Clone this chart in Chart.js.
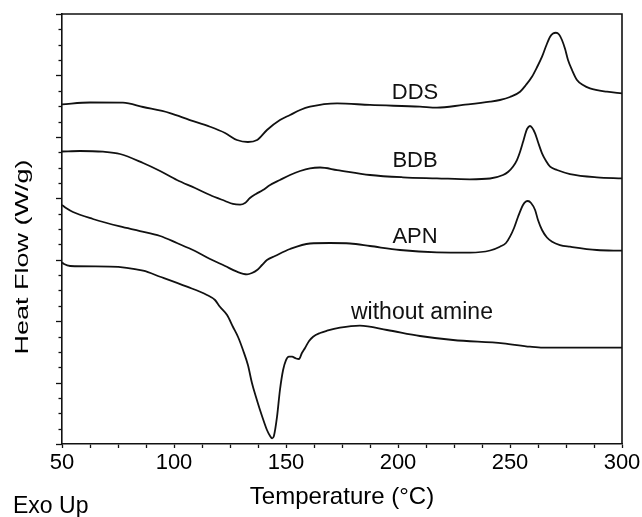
<!DOCTYPE html>
<html>
<head>
<meta charset="utf-8">
<script src="https://cdn.jsdelivr.net/npm/chart.js@4.4.1/dist/chart.umd.min.js"></script>
<style>
  html, body { margin: 0; padding: 0; background: #fff; }
  canvas { display: block; }
</style>
</head>
<body>
<canvas id="dsc" width="642" height="517"></canvas>
<script>
// DSC heating scans (Exo Up), curves stacked with vertical offsets.
// Temperatures in °C, heat flow in offset units (no numeric scale shown).

const ddsTemp = [50, 62.5, 77.2, 86.2, 98.2, 107.1, 116.1, 122.8, 128.1, 133.0, 137.1, 141.5, 147.3, 151.8, 156.3, 160.7, 172.8, 187.5, 209.8, 217.4, 229.0, 241.1, 245.5, 250.0, 254.5, 257.1, 259.8, 262.1, 264.3, 266.1, 267.9, 269.2, 270.5, 271.9, 273.2, 274.6, 275.9, 277.7, 279.9, 282.6, 285.7, 293.3, 300];
const ddsFlow = [5.530, 5.559, 5.556, 5.486, 5.388, 5.274, 5.165, 5.063, 4.949, 4.916, 4.949, 5.112, 5.274, 5.356, 5.437, 5.491, 5.546, 5.519, 5.491, 5.475, 5.519, 5.572, 5.600, 5.649, 5.735, 5.844, 5.979, 6.137, 6.305, 6.479, 6.630, 6.682, 6.695, 6.666, 6.577, 6.430, 6.251, 6.088, 5.925, 5.844, 5.790, 5.735, 5.709];

const bdbTemp = [50, 58.0, 68.3, 75.9, 86.2, 93.8, 101.3, 109.4, 116.1, 122.8, 126.3, 129.5, 131.7, 133.9, 136.6, 139.7, 142.9, 147.3, 151.8, 156.3, 160.7, 165.2, 172.8, 187.5, 202.2, 217.4, 232.1, 241.1, 246.9, 249.1, 251.3, 253.1, 254.5, 255.8, 256.7, 257.6, 258.9, 259.8, 261.2, 262.5, 264.3, 266.1, 267.9, 271.0, 276.8, 288.8, 300];
const bdbFlow = [4.762, 4.770, 4.758, 4.721, 4.574, 4.444, 4.298, 4.167, 4.053, 3.956, 3.907, 3.896, 3.923, 4.005, 4.070, 4.135, 4.216, 4.298, 4.379, 4.444, 4.488, 4.501, 4.460, 4.379, 4.342, 4.325, 4.309, 4.322, 4.379, 4.428, 4.514, 4.623, 4.758, 4.916, 5.030, 5.128, 5.177, 5.152, 5.058, 4.916, 4.732, 4.607, 4.514, 4.460, 4.395, 4.342, 4.325];

const apnTemp = [50, 51.8, 54.9, 63.8, 75.9, 84.8, 93.8, 101.3, 109.4, 116.1, 122.8, 128.1, 132.6, 134.8, 137.1, 139.3, 141.5, 145.1, 151.8, 160.7, 169.6, 178.6, 187.5, 200.9, 217.4, 232.1, 241.1, 245.5, 248.2, 250.0, 251.8, 253.6, 255.8, 257.1, 258.0, 259.4, 261.2, 262.5, 264.3, 266.5, 268.8, 272.3, 276.8, 288.8, 300];
const apnFlow = [3.891, 3.842, 3.777, 3.663, 3.541, 3.467, 3.386, 3.272, 3.142, 3.012, 2.898, 2.805, 2.762, 2.784, 2.832, 2.914, 2.995, 3.060, 3.174, 3.264, 3.272, 3.264, 3.223, 3.158, 3.121, 3.117, 3.150, 3.212, 3.272, 3.375, 3.516, 3.700, 3.891, 3.948, 3.956, 3.923, 3.809, 3.646, 3.484, 3.362, 3.293, 3.239, 3.212, 3.158, 3.147];

const plainTemp = [50, 50.9, 53.6, 71.4, 86.2, 93.8, 105.8, 114.7, 118.3, 120.5, 123.7, 126.3, 128.6, 130.8, 133.0, 134.8, 136.6, 138.4, 140.2, 141.5, 142.9, 143.8, 144.6, 146.0, 147.3, 148.7, 150.0, 151.3, 152.7, 154.5, 155.8, 157.1, 158.5, 160.3, 162.1, 165.2, 168.3, 174.1, 183.0, 195.1, 209.8, 224.6, 246.9, 258.9, 264.7, 300];
const plainFlow = [2.955, 2.930, 2.898, 2.889, 2.821, 2.723, 2.561, 2.426, 2.344, 2.235, 2.100, 1.909, 1.742, 1.530, 1.286, 0.993, 0.765, 0.553, 0.358, 0.228, 0.130, 0.093, 0.130, 0.444, 0.879, 1.205, 1.367, 1.424, 1.421, 1.392, 1.384, 1.481, 1.563, 1.677, 1.747, 1.807, 1.844, 1.893, 1.926, 1.856, 1.758, 1.693, 1.639, 1.584, 1.568, 1.568];

// Curve names and where each name is written (°C, offset units)
const curveNames = ['DDS', 'BDB', 'APN', 'without amine'];
const nameTemp = [207.6, 207.6, 207.6, 210.7];
const nameFlow = [5.722, 4.615, 3.378, 2.141];

const tempTickLabels = [50, 100, 150, 200, 250, 300];

const FONT = '"Liberation Sans", Arial, Helvetica, sans-serif';
const INK = '#111';

function toPoints(xs, ys) {
  return xs.map((x, i) => ({ x: x, y: ys[i] }));
}

function curve(name, xs, ys) {
  return {
    label: name,
    data: toPoints(xs, ys),
    borderColor: INK,
    borderWidth: 1.8,
    pointRadius: 0,
    fill: false,
    cubicInterpolationMode: 'monotone'
  };
}

// Frame, y-axis minor/major ticks, curve names and free-standing texts
const decorations = {
  id: 'decorations',
  afterDraw(chart) {
    const { ctx, chartArea: a, scales: { x, y } } = chart;
    ctx.save();
    ctx.strokeStyle = INK;
    ctx.lineWidth = 1.6;

    // top and right edges of the frame
    ctx.beginPath();
    ctx.moveTo(a.left, a.top);
    ctx.lineTo(a.right, a.top);
    ctx.lineTo(a.right, a.bottom);
    ctx.stroke();

    // outward ticks on the heat-flow axis: major every 1, minor every 0.25
    ctx.lineWidth = 1.3;
    for (let k = 0; k <= (y.max - y.min) * 4; k++) {
      const v = y.min + k * 0.25;
      const py = Math.round(y.getPixelForValue(v)) + 0.5;
      const len = k % 4 === 0 ? 6 : 3.5;
      ctx.beginPath();
      ctx.moveTo(a.left - len, py);
      ctx.lineTo(a.left, py);
      ctx.stroke();
    }

    // curve names
    ctx.fillStyle = INK;
    ctx.textAlign = 'center';
    ctx.textBaseline = 'middle';
    curveNames.forEach((name, i) => {
      ctx.font = (name.length > 4 ? 23 : 22) + 'px ' + FONT;
      ctx.fillText(name, x.getPixelForValue(nameTemp[i]), y.getPixelForValue(nameFlow[i]));
    });

    // vertical axis title (tall, narrow lettering)
    ctx.save();
    ctx.translate(23.5, 257);
    ctx.rotate(-Math.PI / 2);
    ctx.scale(1.5, 1);
    ctx.font = '18px ' + FONT;
    ctx.fillStyle = '#000';
    ctx.fillText('Heat Flow (W/g)', 0, 0);
    ctx.restore();

    // direction note
    ctx.font = '23px ' + FONT;
    ctx.fillStyle = '#000';
    ctx.textAlign = 'left';
    ctx.textBaseline = 'alphabetic';
    ctx.fillText('Exo Up', 13, 512.5);

    ctx.restore();
  }
};

new Chart(document.getElementById('dsc'), {
  type: 'line',
  data: {
    datasets: [
      curve('DDS', ddsTemp, ddsFlow),
      curve('BDB', bdbTemp, bdbFlow),
      curve('APN', apnTemp, apnFlow),
      curve('without amine', plainTemp, plainFlow)
    ]
  },
  options: {
    responsive: false,
    animation: false,
    devicePixelRatio: 1,
    layout: { padding: { left: 0, right: 20, top: 14, bottom: 0 } },
    plugins: { legend: { display: false }, tooltip: { enabled: false } },
    scales: {
      x: {
        type: 'linear',
        min: 50,
        max: 300,
        afterFit(s) { s.height = 73; s.paddingLeft = 0; s.paddingRight = 0; },
        border: { display: true, color: INK, width: 1.6 },
        grid: {
          display: true,
          drawOnChartArea: false,
          drawTicks: true,
          tickLength: 4,
          tickColor: INK,
          tickWidth: 1.3
        },
        ticks: {
          stepSize: 12.5,
          autoSkip: false,
          maxRotation: 0,
          padding: 2,
          color: '#000',
          font: { family: FONT, size: 22 },
          callback: v => (tempTickLabels.includes(v) ? String(v) : '')
        },
        title: {
          display: true,
          text: 'Temperature (°C)',
          color: '#000',
          font: { family: FONT, size: 24 },
          padding: { top: 0, bottom: 5 }
        }
      },
      y: {
        type: 'linear',
        min: 0,
        max: 7,
        afterFit(s) { s.width = 62; },
        border: { display: true, color: INK, width: 1.6 },
        grid: { display: false },
        ticks: { display: false }
      }
    }
  },
  plugins: [decorations]
});
</script>
</body>
</html>
